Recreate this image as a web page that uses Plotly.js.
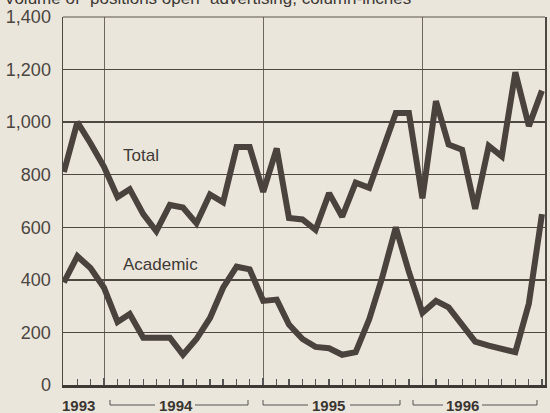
<!DOCTYPE html>
<html>
<head>
<meta charset="utf-8">
<script src="https://cdn.plot.ly/plotly-3.0.1.min.js"></script>
<style>
  html, body { margin: 0; padding: 0; background: #ebe6dc; }
  #chart { width: 550px; height: 413px; }
</style>
</head>
<body>
<div id="chart"></div>
<script>
// Months, Oct 1993 – Oct 1996
var months = ['1993-10-01','1993-11-01','1993-12-01',
  '1994-01-01','1994-02-01','1994-03-01','1994-04-01','1994-05-01','1994-06-01',
  '1994-07-01','1994-08-01','1994-09-01','1994-10-01','1994-11-01','1994-12-01',
  '1995-01-01','1995-02-01','1995-03-01','1995-04-01','1995-05-01','1995-06-01',
  '1995-07-01','1995-08-01','1995-09-01','1995-10-01','1995-11-01','1995-12-01',
  '1996-01-01','1996-02-01','1996-03-01','1996-04-01','1996-05-01','1996-06-01',
  '1996-07-01','1996-08-01','1996-09-01','1996-10-01'];

var total = [810, 1000, 920,
  830, 715, 745, 650, 585, 685, 675, 615, 725, 695, 905, 905,
  735, 900, 635, 630, 590, 730, 640, 770, 750, 890, 1035, 1035,
  710, 1080, 915, 895, 670, 910, 870, 1190, 985, 1120];

var academic = [390, 490, 445,
  370, 240, 270, 180, 180, 180, 115, 175, 255, 370, 450, 440,
  320, 325, 230, 175, 145, 140, 115, 125, 250, 410, 600, 430,
  275, 320, 295, 230, 165, 150, 140, 125, 310, 650];

var yTicks = [0, 200, 400, 600, 800, 1000, 1200, 1400];
var yTickText = ['0', '200', '400', '600', '800', '1,000', '1,200', '1,400'];

var seriesNames = ['Total', 'Academic'];
var yearLabels = ['1993', '1994', '1995', '1996'];
var titleText = 'Volume of \u201cpositions open\u201d advertising, column-inches';

var ink = '#4a423c';
var bg = '#ebe6dc';

var traces = [
  {x: months, y: total, name: seriesNames[0], type: 'scatter', mode: 'lines',
   line: {color: ink, width: 6}},
  {x: months, y: academic, name: seriesNames[1], type: 'scatter', mode: 'lines',
   line: {color: ink, width: 6}}
];

// plot area: x from 63 to 545 px, y from 17 to 385 px
var L = 63, R = 545, T = 17, B = 385;
function px(p) { return (p - L) / (R - L); }
function py(p) { return (B - p) / (B - T); }

var shapes = [
  {type: 'line', xref: 'paper', yref: 'paper', x0: 0, x1: 1, y0: 1, y1: 1,
   line: {color: '#5a524b', width: 1.2}}
];
// year brackets under the axis
var brackets = [[110, 155, 195, 248], [263, 308, 350, 400], [413, 443, 482, 537]];
var by = py(405), bt = py(400);
brackets.forEach(function (b) {
  shapes.push({type: 'line', xref: 'paper', yref: 'paper', x0: px(b[0]), x1: px(b[1]), y0: by, y1: by, line: {color: '#555', width: 1}});
  shapes.push({type: 'line', xref: 'paper', yref: 'paper', x0: px(b[2]), x1: px(b[3]), y0: by, y1: by, line: {color: '#555', width: 1}});
  shapes.push({type: 'line', xref: 'paper', yref: 'paper', x0: px(b[0]), x1: px(b[0]), y0: by, y1: bt, line: {color: '#555', width: 1}});
  shapes.push({type: 'line', xref: 'paper', yref: 'paper', x0: px(b[3]), x1: px(b[3]), y0: by, y1: bt, line: {color: '#555', width: 1}});
});

var yearX = [78, 176, 328, 462];
var annotations = [
  {text: titleText, xref: 'paper', yref: 'paper', x: px(2), y: py(10), xanchor: 'left', yanchor: 'bottom',
   showarrow: false, font: {family: 'Liberation Sans, Arial, sans-serif', size: 17, color: '#3c3835'}},
  {text: seriesNames[0], xref: 'paper', yref: 'paper', x: px(141), y: py(155), xanchor: 'center', yanchor: 'middle',
   showarrow: false, font: {family: 'Liberation Sans, Arial, sans-serif', size: 17, color: '#3f3a36'}},
  {text: seriesNames[1], xref: 'paper', yref: 'paper', x: px(160), y: py(264), xanchor: 'center', yanchor: 'middle',
   showarrow: false, font: {family: 'Liberation Sans, Arial, sans-serif', size: 17, color: '#3f3a36'}}
];
yearLabels.forEach(function (t, i) {
  annotations.push({text: '<b>' + t + '</b>', xref: 'paper', yref: 'paper', x: px(yearX[i]), y: py(405),
    xanchor: 'center', yanchor: 'middle', showarrow: false,
    font: {family: 'Liberation Sans Narrow, Liberation Sans, Arial, sans-serif', size: 15, color: '#3a3531'}});
});

var layout = {
  width: 550, height: 413,
  margin: {l: L, r: 550 - R, t: T, b: 413 - B},
  paper_bgcolor: bg, plot_bgcolor: bg,
  showlegend: false,
  xaxis: {
    type: 'date', range: ['1993-09-29', '1996-10-08'],
    tick0: '1994-01-01', dtick: 'M12', ticks: 'inside', ticklen: 7, tickwidth: 1.5, tickcolor: '#555',
    showticklabels: false, showgrid: true, gridcolor: '#6e665f', gridwidth: 1,
    showline: true, linecolor: '#3f3a36', linewidth: 2.5, zeroline: false,
    minor: {dtick: 'M1', tick0: '1993-10-01', ticks: 'inside', ticklen: 6, tickwidth: 1.2, tickcolor: '#555', showgrid: false}
  },
  yaxis: {
    range: [0, 1400], tickvals: yTicks, ticktext: yTickText,
    showgrid: true, gridcolor: '#4f4842', gridwidth: 1.5,
    showline: true, linecolor: '#4f4842', linewidth: 1.5, mirror: true,
    zeroline: false, ticks: '', ticklabelstandoff: 7,
    tickfont: {family: 'Liberation Sans Narrow, Liberation Sans, Arial, sans-serif', size: 18, color: '#4a4541'}
  },
  shapes: shapes,
  annotations: annotations
};

Plotly.newPlot('chart', traces, layout, {staticPlot: true, displayModeBar: false});
</script>
</body>
</html>
